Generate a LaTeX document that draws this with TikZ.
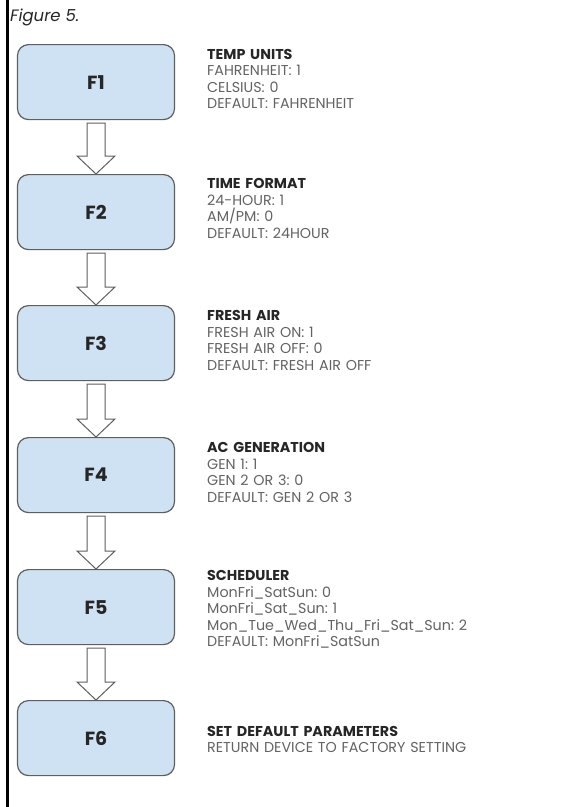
\documentclass[tikz,border=0pt]{standalone}
\usepackage{fontspec}
\setmainfont{Poppins}
\frenchspacing
\usetikzlibrary{calc}
\definecolor{boxfill}{HTML}{CFE2F3}
\definecolor{boxline}{HTML}{5F5F5F}
\definecolor{bodytext}{HTML}{636363}
\definecolor{titletext}{HTML}{262626}
\tikzset{
  fbox/.style={draw=boxline, line width=1.2pt, fill=boxfill, rounded corners=11pt,
    minimum width=157pt, minimum height=75pt, inner sep=0pt, anchor=north,
    font=\fontsize{19}{22}\selectfont\bfseries, text=titletext},
  blockarrow/.style={draw=boxline, line width=1pt, fill=white, line join=miter},
  info/.style={anchor=base west, inner sep=0pt, text width=360pt, align=left,
    font=\fontsize{14.3}{16.6}\selectfont, text=bodytext},
}
\newcommand{\ttl}[1]{{\bfseries\color{titletext}#1}}
\begin{document}
\begin{tikzpicture}[x=1pt, y=-1pt]
\useasboundingbox (0,0) rectangle (575,807);
\fill[white] (0,0) rectangle (575,807);
\draw[line width=3.4pt, black] (7.5,0) -- (7.5,807);
\node[anchor=base west, inner sep=0pt, font=\fontsize{16.5}{19}\selectfont\itshape, text=black!85] (cap) at (10,21.5) {Figure 5.};
\node[fbox] (f1) at (96,44) {F1};
\node[fbox] (f2) at (96,174) {F2};
\node[fbox] (f3) at (96,305) {F3};
\node[fbox] (f4) at (96,437) {F4};
\node[fbox] (f5) at (96,569) {F5};
\node[fbox] (f6) at (96,700) {F6};
\foreach \a/\b in {f1/f2,f2/f3,f3/f4,f4/f5,f5/f6}{
  \draw[blockarrow] ($(\a.south)+(-9,3)$) -- ($(\a.south)+(9,3)$) -- ($(\b.north)+(9,-18)$) -- ($(\b.north)+(19,-18)$) -- (\b.north) -- ($(\b.north)+(-19,-18)$) -- ($(\b.north)+(-9,-18)$) -- cycle;
}
\node[info] (t1) at (207,59) {\ttl{TEMP UNITS}\\FAHRENHEIT: 1\\CELSIUS: 0\\DEFAULT: FAHRENHEIT};
\node[info] (t2) at (207,188.5) {\ttl{TIME FORMAT}\\24-HOUR: 1\\AM/PM: 0\\DEFAULT: 24HOUR};
\node[info] (t3) at (207,320.5) {\ttl{FRESH AIR}\\FRESH AIR ON: 1\\FRESH AIR OFF: 0\\DEFAULT: FRESH AIR OFF};
\node[info] (t4) at (207,452.5) {\ttl{AC GENERATION}\\GEN 1: 1\\GEN 2 OR 3: 0\\DEFAULT: GEN 2 OR 3};
\node[info] (t5) at (207,580.5) {\ttl{SCHEDULER}\\MonFri\_SatSun: 0\\MonFri\_Sat\_Sun: 1\\Mon\_Tue\_Wed\_Thu\_Fri\_Sat\_Sun: 2\\DEFAULT: MonFri\_SatSun};
\node[info] (t6) at (207,736) {\ttl{SET DEFAULT PARAMETERS}\\RETURN DEVICE TO FACTORY SETTING};
\end{tikzpicture}
\end{document}
